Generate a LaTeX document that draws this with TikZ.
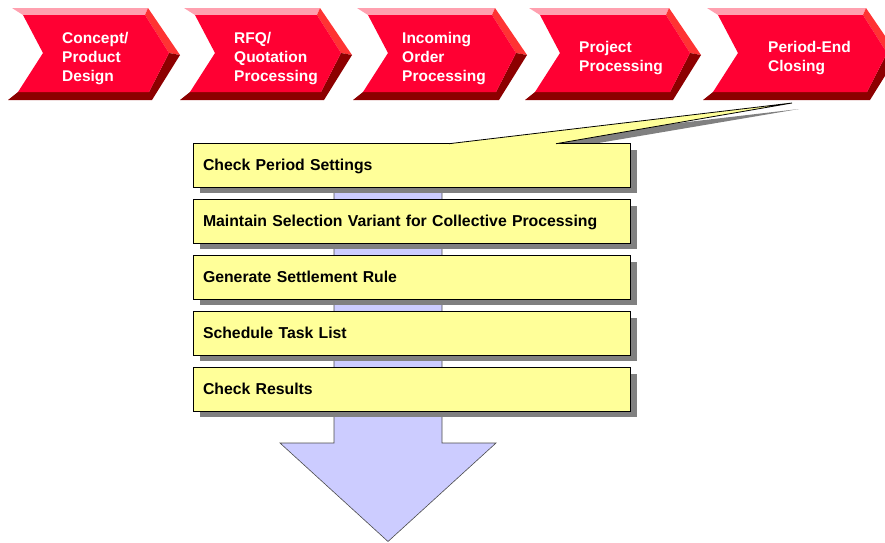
\documentclass[tikz,border=0pt]{standalone}
\usepackage{fontspec}
\setsansfont{Liberation Sans}
\usetikzlibrary{positioning, shadows, backgrounds}
\definecolor{chevfront}{RGB}{255,0,51}
\definecolor{chevtop}{RGB}{255,160,175}
\definecolor{chevside}{RGB}{255,51,51}
\definecolor{chevdark}{RGB}{140,0,0}
\definecolor{taskfill}{RGB}{255,255,153}
\definecolor{flowfill}{RGB}{204,204,255}
\definecolor{shadowgray}{RGB}{128,128,128}

\begin{document}
\begin{tikzpicture}[
  x=1pt, y=-1pt,
  node distance=11.6pt,
  phase/.style={text=white, font=\sffamily\bfseries\fontsize{15.5}{19}\selectfont, align=left, anchor=west, inner sep=0pt},
  task/.style={rectangle, draw=black, line width=0.8pt, fill=taskfill, minimum width=437pt, minimum height=43.6pt, text width=417pt, text height=11pt, text depth=1.5pt, inner xsep=10pt, align=left, font=\sffamily\bfseries\fontsize{15.8}{18}\selectfont,
    drop shadow={shadow xshift=7pt, shadow yshift=-6pt, fill=shadowgray, opacity=1}}
]
  \useasboundingbox (0,0) rectangle (885,542);

  % process chevrons
  \foreach \x/\l/\tx/\n/\lbl in {12/122/62/concept/{Concept/\\Product\\Design},
      184/122/234/rfq/{RFQ/\\Quotation\\Processing},
      357/124/402/incoming/{Incoming\\Order\\Processing},
      529/126/579/project/{Project\\Processing},
      707/145/768/closing/{Period-End\\Closing}} {
    \fill[chevtop] (\x,8) -- ({\x+\l+14},8) -- ({\x+\l+11},15) -- ({\x+11},15) -- cycle;
    \fill[chevside] ({\x+\l+14},8) -- ({\x+\l+46},55) -- ({\x+\l+35},53) -- ({\x+\l+11},15) -- cycle;
    \fill[chevdark] ({\x+6},92) -- ({\x+\l+15},92) -- ({\x+\l+35},53) -- ({\x+\l+46},55) -- ({\x+\l+18},100) -- ({\x-4},100) -- cycle;
    \fill[chevfront] ({\x+11},15) -- ({\x+\l+11},15) -- ({\x+\l+35},53) -- ({\x+\l+15},92) -- ({\x+6},92) -- ({\x+31},53) -- cycle;
    \node[phase] (\n) at (\tx,58.5) {\lbl};
  }

  % closing steps
  \node[task] (settings) at (411.5,165.5) {Check Period Settings};
  \node[task, below=of settings] (variant) {Maintain Selection Variant for Collective Processing};
  \node[task, below=of variant] (settle) {Generate Settlement Rule};
  \node[task, below=of settle] (schedule) {Schedule Task List};
  \node[task, below=of schedule] (results) {Check Results};

  \coordinate (closetip) at (792,103);
  \coordinate (wedgeL) at (449,143.7);
  \coordinate (wedgeR) at (556,143.7);

  \begin{pgfonlayer}{background}
    \fill[shadowgray] (456,149) -- (799,109) -- (563,149) -- cycle;
    \filldraw[fill=flowfill, draw=black!70, line width=0.6pt]
      (334,170) -- (334,443) -- (280,443) -- (388,541.5) -- (496,443) -- (442,443) -- (442,170) -- cycle;
  \end{pgfonlayer}

  % callout from the closing phase
  \fill[taskfill] (449,144.6) -- (wedgeL) -- (closetip) -- (wedgeR) -- (556,144.6) -- cycle;
  \draw[line width=0.8pt] (wedgeL) -- (closetip) -- (wedgeR);
\end{tikzpicture}
\end{document}
